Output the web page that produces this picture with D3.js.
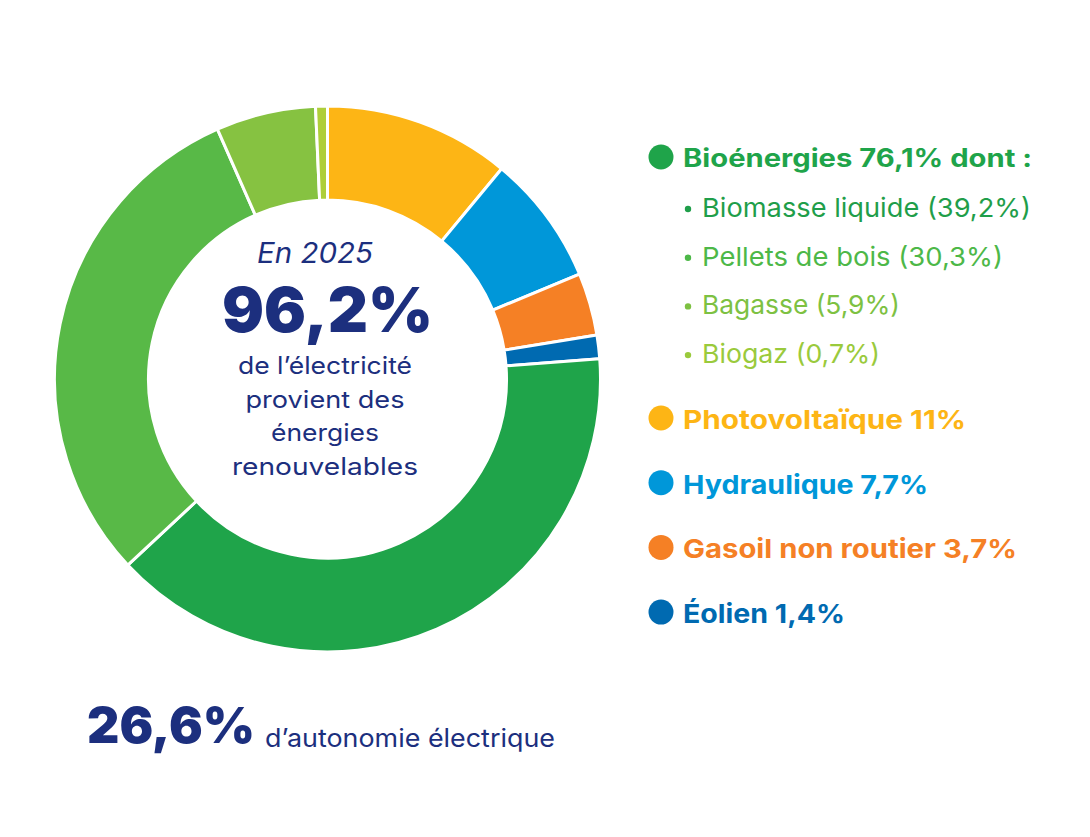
<!DOCTYPE html>
<html lang="fr">
<head>
<meta charset="utf-8">
<script src="https://cdn.jsdelivr.net/npm/d3@7"></script>
<style>
  html, body { margin: 0; padding: 0; background: #fff; }
  svg { display: block; font-family: Inter, Lato, "Noto Sans", sans-serif; }
</style>
</head>
<body>
<div id="chart"></div>
<script>
// slices, clockwise from 12 o'clock
const sources = ['Photovoltaïque', 'Hydraulique', 'Gasoil non routier', 'Éolien',
                 'Biomasse liquide', 'Pellets de bois', 'Bagasse', 'Biogaz'];
const shares  = [11, 7.7, 3.7, 1.4, 39.2, 30.3, 5.9, 0.7];
const colors  = ['#fdb515', '#0097d9', '#f58025', '#006ab1',
                 '#1fa44a', '#58b947', '#86c241', '#aece3a'];

// legend
const bioHeader = 'Bioénergies 76,1% dont :';
const bioItems  = ['Biomasse liquide (39,2%)', 'Pellets de bois (30,3%)', 'Bagasse (5,9%)', 'Biogaz (0,7%)'];
const bioColors = ['#1f9e4a', '#4db848', '#7dc142', '#9aca3c'];
const mainItems  = ['Photovoltaïque 11%', 'Hydraulique 7,7%', 'Gasoil non routier 3,7%', 'Éolien 1,4%'];
const mainColors = ['#fdb515', '#0097d9', '#f58025', '#006ab1'];

const centerLines = ['de l’électricité', 'provient des', 'énergies', 'renouvelables'];
const navy = '#1c2f7e';

// measured widths of the text runs in the original artwork
const fitW = {
  'En 2025': 116, '96,2%': 211,
  'de l’électricité': 174, 'provient des': 159, 'énergies': 108, 'renouvelables': 186,
  '26,6%': 168, 'd’autonomie électrique': 290,
  'Bioénergies 76,1% dont :': 349,
  'Biomasse liquide (39,2%)': 329, 'Pellets de bois (30,3%)': 301,
  'Bagasse (5,9%)': 198, 'Biogaz (0,7%)': 178,
  'Photovoltaïque 11%': 283, 'Hydraulique 7,7%': 245,
  'Gasoil non routier 3,7%': 334, 'Éolien 1,4%': 162
};

const W = 1090, H = 837;
const cx = 327.5, cy = 379;
const rOuter = 273, rInner = 179;

const svg = d3.select('#chart').append('svg')
  .attr('width', W).attr('height', H).attr('viewBox', `0 0 ${W} ${H}`);

// donut
const pie = d3.pie().sort(null).value(d => d.v);
const arc = d3.arc().innerRadius(rInner).outerRadius(rOuter);
const slices = pie(sources.map((s, i) => ({ s, v: shares[i], c: colors[i] })));

svg.append('g').attr('transform', `translate(${cx},${cy})`)
  .selectAll('path').data(slices).join('path')
    .attr('d', arc)
    .attr('fill', d => d.data.c)
    .attr('stroke', '#fff')
    .attr('stroke-width', 3)
    .attr('stroke-linejoin', 'round');

// centre text
const gc = svg.append('g').attr('fill', navy).attr('text-anchor', 'middle');
gc.append('text').attr('x', 315).attr('y', 263)
  .attr('font-size', 28).attr('font-style', 'italic').text('En 2025');
gc.append('text').attr('x', 327.5).attr('y', 332)
  .attr('font-size', 62).attr('font-weight', 900).text('96,2%');
gc.selectAll('text.line').data(centerLines).join('text')
  .attr('class', 'line')
  .attr('x', 325).attr('y', (d, i) => 374 + i * 33.7)
  .attr('font-size', 24).text(d => d);

// bottom note
const gb = svg.append('g').attr('fill', navy);
gb.append('text').attr('x', 87).attr('y', 743)
  .attr('font-size', 50).attr('font-weight', 900).text('26,6%');
gb.append('text').attr('x', 265).attr('y', 747)
  .attr('font-size', 25).text('d’autonomie électrique');

// legend
const lg = svg.append('g');
lg.append('circle').attr('cx', 661).attr('cy', 157).attr('r', 12.5).attr('fill', '#1fa44a');
lg.append('text').attr('x', 683).attr('y', 167)
  .attr('font-size', 25).attr('font-weight', 700).attr('fill', '#1fa44a').text(bioHeader);

const sub = lg.selectAll('g.sub').data(bioItems).join('g').attr('class', 'sub')
  .attr('transform', (d, i) => `translate(0,${217 + i * 48.7})`);
sub.append('circle').attr('cx', 688).attr('cy', -8).attr('r', 3.2)
  .attr('fill', (d, i) => bioColors[i]);
sub.append('text').attr('x', 702).attr('y', 0)
  .attr('font-size', 26).attr('fill', (d, i) => bioColors[i]).text(d => d);

const main = lg.selectAll('g.main').data(mainItems).join('g').attr('class', 'main')
  .attr('transform', (d, i) => `translate(0,${429 + i * 64.7})`);
main.append('circle').attr('cx', 661).attr('cy', -11).attr('r', 12.5)
  .attr('fill', (d, i) => mainColors[i]);
main.append('text').attr('x', 683).attr('y', 0)
  .attr('font-size', 26).attr('font-weight', 700)
  .attr('fill', (d, i) => mainColors[i]).text(d => d);

// stretch/squeeze each run to the width it has in the original
svg.selectAll('text').each(function () {
  const w = fitW[this.textContent];
  if (w) d3.select(this).attr('textLength', w).attr('lengthAdjust', 'spacingAndGlyphs');
});
</script>
</body>
</html>
